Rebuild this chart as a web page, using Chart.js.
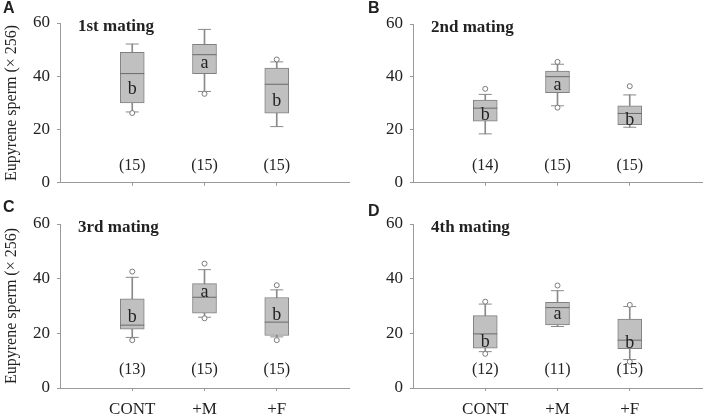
<!DOCTYPE html>
<html>
<head>
<meta charset="utf-8">
<script src="https://cdn.jsdelivr.net/npm/chart.js@4.4.0/dist/chart.umd.min.js"></script>
<style>
    body { margin: 0; background: #fff; }
    .panel { position: absolute; }
</style>
</head>
<body>
<div class="panel" style="left:0;top:0;width:362px;height:200px"><canvas id="panel-a"></canvas></div>
<div class="panel" style="left:353px;top:0;width:362px;height:200px"><canvas id="panel-b"></canvas></div>
<div class="panel" style="left:0;top:200px;width:362px;height:217px"><canvas id="panel-c"></canvas></div>
<div class="panel" style="left:353px;top:200px;width:362px;height:217px"><canvas id="panel-d"></canvas></div>
<script>
const categories = ["CONT", "+M", "+F"];
const panelTags = ["A", "B", "C", "D"];
const panelTitles = ["1st mating", "2nd mating", "3rd mating", "4th mating"];
const yTicks = [0, 20, 40, 60];

// one row per panel, one value per category (CONT, +M, +F)
const whiskerLow = [
    [26.6, 34.3, 21.1],
    [18.5, 29.1, 21.0],
    [18.5, 25.9, 18.7],
    [13.3, 22.5, 10.4],
];
const q1 = [
    [30.0, 41.0, 26.1],
    [23.3, 34.1, 22.0],
    [21.5, 27.4, 19.2],
    [14.6, 23.1, 14.4],
];
const median = [
    [41.0, 48.1, 37.0],
    [28.2, 40.1, 26.2],
    [23.0, 33.2, 24.1],
    [19.8, 29.4, 17.5],
];
const q3 = [
    [49.0, 52.0, 43.1],
    [31.3, 42.2, 29.1],
    [32.6, 38.2, 33.1],
    [26.5, 31.3, 25.2],
];
const whiskerHigh = [
    [52.1, 57.6, 45.4],
    [33.4, 44.8, 33.2],
    [40.5, 43.3, 35.9],
    [30.7, 35.6, 29.8],
];
const outliers = [
    [[26.2], [33.4], [46.3]],
    [[35.5], [45.7, 28.4], [36.5]],
    [[42.6, 17.5], [45.5, 25.5], [37.6, 17.5]],
    [[31.6, 12.5], [37.5], [30.4, 9.6]],
];
const sampleSizes = [
    [15, 15, 15],
    [14, 15, 15],
    [13, 15, 15],
    [12, 11, 15],
];
const groupLetters = [
    ["b", "a", "b"],
    ["b", "a", "b"],
    ["b", "a", "b"],
    ["b", "a", "b"],
];
const letterValues = [
    [35.2, 44.7, 30.7],
    [25.5, 36.8, 23.6],
    [25.7, 35.0, 26.5],
    [16.8, 27.1, 16.4],
];
const sampleSizeValue = 6.5;

const serif = "'Liberation Serif', 'Times New Roman', serif";
const axisColor = "#9a9a9a";
const textColor = "#222";

// texts: panel tag, title, y-axis title, group letters, sample sizes
const annotatePlugin = {
    id: "annotate",
    afterDraw(chart) {
        const p = chart.options.plugins.annotate.panel;
        const ctx = chart.ctx;
        const area = chart.chartArea;
        const xs = chart.scales.x;
        const ys = chart.scales.y;
        ctx.save();
        ctx.fillStyle = textColor;

        ctx.font = "bold 16px 'Liberation Sans', Arial, sans-serif";
        ctx.textAlign = "left";
        ctx.textBaseline = "middle";
        const tagY = [9, 9, 8, 12][p];
        ctx.fillText(panelTags[p], p % 2 ? 15 : 3, tagY);

        ctx.font = "bold 17px " + serif;
        ctx.fillText(panelTitles[p], area.left + 18, area.top + 4);

        if (p % 2 === 0) {
            ctx.save();
            ctx.translate(12, (area.top + area.bottom) / 2);
            ctx.rotate(-Math.PI / 2);
            ctx.textAlign = "center";
            ctx.font = "16px " + serif;
            ctx.fillText("Eupyrene sperm (\u00d7 256)", 0, 0);
            ctx.restore();
        }

        ctx.textAlign = "center";
        categories.forEach((c, i) => {
            const x = xs.getPixelForValue(i + 1);
            ctx.font = "18px " + serif;
            ctx.fillText(groupLetters[p][i], x, ys.getPixelForValue(letterValues[p][i]));
            ctx.font = "16px " + serif;
            ctx.fillText("(" + sampleSizes[p][i] + ")", x, ys.getPixelForValue(sampleSizeValue));
        });
        ctx.restore();
    },
};

function makePanel(p, canvasId, isBottom, padTop, xAxisHeight) {
    const xOf = (i) => i + 1;
    const caps = [];
    const dots = [];
    categories.forEach((c, i) => {
        caps.push({ x: xOf(i), y: whiskerLow[p][i] }, { x: xOf(i), y: whiskerHigh[p][i] });
        outliers[p][i].forEach((v) => dots.push({ x: xOf(i), y: v }));
    });

    new Chart(document.getElementById(canvasId), {
        type: "bar",
        data: {
            datasets: [
                {
                    label: "whisker",
                    data: categories.map((c, i) => ({ x: xOf(i), y: [whiskerLow[p][i], whiskerHigh[p][i]] })),
                    backgroundColor: "#8a8a8a",
                    barThickness: 1,
                    grouped: false,
                    order: 5,
                },
                {
                    label: "box",
                    data: categories.map((c, i) => ({ x: xOf(i), y: [q1[p][i], q3[p][i]] })),
                    backgroundColor: "#c0c0c0",
                    borderColor: "#808080",
                    borderWidth: 1,
                    borderSkipped: false,
                    barThickness: 24,
                    grouped: false,
                    order: 4,
                },
                {
                    type: "line",
                    label: "median",
                    data: categories.map((c, i) => ({ x: xOf(i), y: median[p][i] })),
                    showLine: false,
                    pointStyle: "line",
                    pointRadius: 12,
                    pointBorderColor: "#6a6a6a",
                    pointBorderWidth: 1,
                    order: 3,
                },
                {
                    type: "line",
                    label: "caps",
                    data: caps,
                    showLine: false,
                    pointStyle: "line",
                    pointRadius: 6.5,
                    pointBorderColor: "#8a8a8a",
                    pointBorderWidth: 1,
                    order: 2,
                },
                {
                    type: "line",
                    label: "outliers",
                    data: dots,
                    showLine: false,
                    pointStyle: "circle",
                    pointRadius: 2.5,
                    pointBackgroundColor: "#fff",
                    pointBorderColor: "#7a7a7a",
                    pointBorderWidth: 1,
                    order: 1,
                },
            ],
        },
        options: {
            responsive: true,
            maintainAspectRatio: false,
            animation: false,
            events: [],
            layout: { padding: { top: padTop, right: 3, left: 0, bottom: 0 } },
            plugins: {
                legend: { display: false },
                tooltip: { enabled: false },
                annotate: { panel: p },
            },
            scales: {
                x: {
                    type: "linear",
                    offset: false,
                    min: 0,
                    max: 4,
                    afterBuildTicks: (scale) => {
                        scale.ticks = [0, 1, 2, 3, 4].map((v) => ({ value: v }));
                    },
                    afterFit: (scale) => {
                        scale.height = xAxisHeight;
                    },
                    ticks: {
                        display: isBottom,
                        color: textColor,
                        font: { family: serif, size: 17 },
                        padding: 8,
                        maxRotation: 0,
                        autoSkip: false,
                        callback: (v) => categories[v - 1] || "",
                    },
                    grid: {
                        drawOnChartArea: false,
                        offset: false,
                        tickLength: 3,
                        color: (ctx) =>
                            ctx.tick && ctx.tick.value >= 1 && ctx.tick.value <= 3
                                ? axisColor
                                : "rgba(0,0,0,0)",
                    },
                    border: { color: axisColor },
                },
                y: {
                    min: 0,
                    max: 60,
                    afterBuildTicks: (scale) => {
                        scale.ticks = yTicks.map((v) => ({ value: v }));
                    },
                    afterFit: (scale) => {
                        scale.width = 60;
                    },
                    ticks: {
                        color: textColor,
                        font: { family: serif, size: 17 },
                        padding: 7,
                    },
                    grid: {
                        drawOnChartArea: false,
                        tickLength: 3,
                        color: axisColor,
                    },
                    border: { color: axisColor },
                },
            },
        },
        plugins: [annotatePlugin],
    });
}

makePanel(0, "panel-a", false, 23, 14);
makePanel(1, "panel-b", false, 24, 13);
makePanel(2, "panel-c", true, 24, 29);
makePanel(3, "panel-d", true, 24, 29);
</script>
</body>
</html>
